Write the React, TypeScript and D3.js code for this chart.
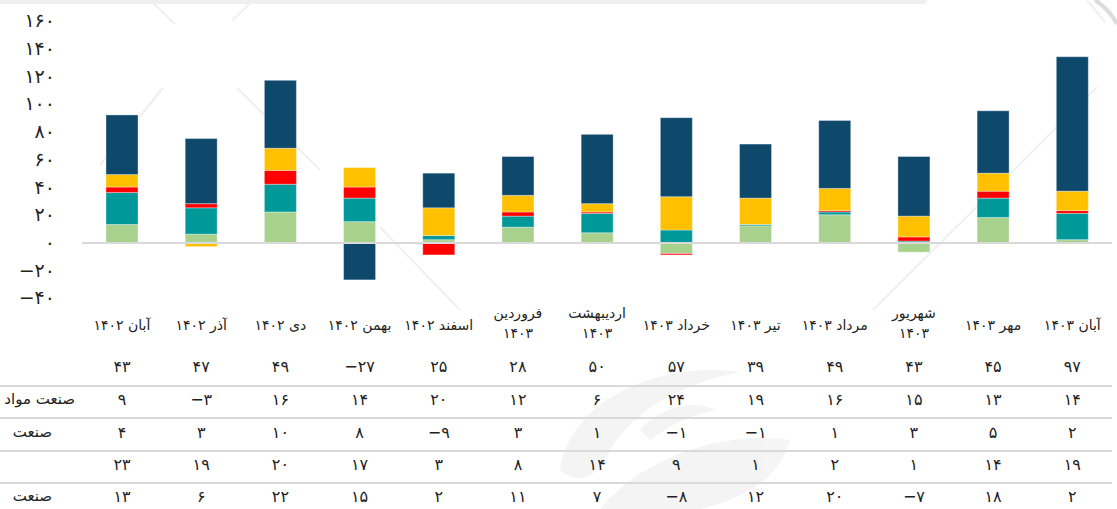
import { useRef, useEffect } from 'react';
import * as d3 from 'd3';

// months (left to right)
const categories = [
  'آبان ۱۴۰۲', 'آذر ۱۴۰۲', 'دی ۱۴۰۲', 'بهمن ۱۴۰۲', 'اسفند ۱۴۰۲',
  'فروردین ۱۴۰۳', 'اردیبهشت ۱۴۰۳', 'خرداد ۱۴۰۳', 'تیر ۱۴۰۳',
  'مرداد ۱۴۰۳', 'شهریور ۱۴۰۳', 'مهر ۱۴۰۳', 'آبان ۱۴۰۳',
];

// table rows, top to bottom
const blueValues = [43, 47, 49, -27, 25, 28, 50, 57, 39, 49, 43, 45, 97];
const yellowValues = [9, -3, 16, 14, 20, 12, 6, 24, 19, 16, 15, 13, 14];
const redValues = [4, 3, 10, 8, -9, 3, 1, -1, -1, 1, 3, 5, 2];
const tealValues = [23, 19, 20, 17, 3, 8, 14, 9, 1, 2, 1, 14, 19];
const greenValues = [13, 6, 22, 15, 2, 11, 7, -8, 12, 20, -7, 18, 2];

const rowLabels = ['', 'صنعت مواد', 'صنعت', '', 'صنعت'];
const yTicks = [-40, -20, 0, 20, 40, 60, 80, 100, 120, 140, 160];

const W = 1117;
const H = 509;

const fa = (n: number) => {
  const s = String(Math.abs(n)).replace(/\d/g, d => '۰۱۲۳۴۵۶۷۸۹'[+d]);
  return n < 0 ? '−' + s : s;
};

const App = () => {
  const svgRef = useRef<SVGSVGElement>(null);

  useEffect(() => {
    const svg = d3.select(svgRef.current);
    svg.selectAll('*').remove();

    const font = 'DejaVu Sans, Noto Sans, sans-serif';

    // faint watermark bits
    const wm = svg.append('g').attr('fill', 'none').attr('stroke', '#f0f0f0').attr('stroke-width', 2);
    wm.append('rect').attr('x', -10).attr('y', -4).attr('width', 937).attr('height', 8).attr('rx', 4)
      .attr('fill', '#efefef').attr('stroke', 'none');
    [[150, 0, 175, 24], [253, 0, 232, 21], [163, 88, 100, 165], [237, 88, 320, 170],
     [380, 227, 460, 310], [1097, 87, 873, 310], [1087, 0, 1105, 22]].forEach(([x1, y1, x2, y2]) => {
      wm.append('line').attr('x1', x1).attr('y1', y1).attr('x2', x2).attr('y2', y2);
    });
    wm.append('path').attr('d', 'M1095,0 Q1110,10 1117,24').attr('stroke', '#dcdcdc').attr('stroke-width', 4);
    const sw = svg.append('g').attr('fill', '#000').attr('opacity', 0.04);
    sw.append('path').attr('d', 'M560,470 C570,400 660,360 740,372 C700,380 640,400 610,450 C600,470 585,490 560,470 Z');
    sw.append('path').attr('d', 'M600,509 C640,460 720,430 790,440 C780,480 740,500 700,509 Z');
    sw.append('path').attr('d', 'M640,430 C660,405 700,400 715,410 C690,415 670,425 650,440 Z');

    const x = d3.scaleBand<string>()
      .domain(categories)
      .range([82.4, 1111.9])
      .paddingInner(0.596)
      .paddingOuter(0.298);

    const y = d3.scaleLinear()
      .domain([-40, 160])
      .range([297.9, 20.7]);

    // y axis labels
    const yAxis = svg.append('g')
      .attr('transform', 'translate(57,0)')
      .call(d3.axisLeft(y).tickValues(yTicks).tickSize(0).tickPadding(2).tickFormat(d => fa(+d)));
    yAxis.select('.domain').remove();
    yAxis.selectAll('text').attr('font-family', font).attr('font-size', 19).attr('fill', '#222');

    // stacked bars
    const rows = categories.map((c, i) => ({
      cat: c, green: greenValues[i], teal: tealValues[i], red: redValues[i],
      yellow: yellowValues[i], blue: blueValues[i],
    }));
    const keys = ['green', 'teal', 'red', 'yellow', 'blue'];
    const colors: Record<string, string> = {
      green: '#a9d18e', teal: '#009999', red: '#ff0000', yellow: '#ffc000', blue: '#0e486b',
    };
    const series = d3.stack<any>().keys(keys).offset(d3.stackOffsetDiverging)(rows);

    svg.append('g').selectAll('g')
      .data(series)
      .enter()
      .append('g')
      .attr('fill', s => colors[s.key])
      .selectAll('rect')
      .data(s => s)
      .enter()
      .append('rect')
      .attr('x', d => x(d.data.cat)!)
      .attr('width', x.bandwidth())
      .attr('y', d => y(Math.max(d[0], d[1])))
      .attr('height', d => Math.abs(y(d[0]) - y(d[1])))
      .attr('stroke', 'rgba(255,255,255,0.35)')
      .attr('stroke-width', 1);

    // zero line
    svg.append('line')
      .attr('x1', 82).attr('x2', 1112)
      .attr('y1', y(0) + 0.5).attr('y2', y(0) + 0.5)
      .attr('stroke', '#d9d9d9').attr('stroke-width', 2);

    // data table: header
    const head = svg.append('g').attr('font-family', font).attr('font-size', 14).attr('fill', '#222')
      .attr('text-anchor', 'middle');
    categories.forEach(c => {
      const cx = x(c)! + x.bandwidth() / 2;
      const [word, year] = c.split(' ');
      if (word.length > 5) {
        head.append('text').attr('x', cx).attr('y', 318).text(word);
        head.append('text').attr('x', cx).attr('y', 338).text(year);
      } else {
        head.append('text').attr('x', cx).attr('y', 330).text(c);
      }
    });

    const tableRows = [blueValues, yellowValues, redValues, tealValues, greenValues];
    const rowY = [366, 399, 432, 464, 496];
    const gridY = [386, 418, 451, 483];

    svg.append('g').selectAll('line')
      .data(gridY)
      .enter()
      .append('line')
      .attr('x1', 0).attr('x2', 1112)
      .attr('y1', d => d).attr('y2', d => d)
      .attr('stroke', '#d9d9d9').attr('stroke-width', 2);

    const body = svg.append('g').attr('font-family', font).attr('font-size', 16).attr('fill', '#222');
    tableRows.forEach((vals, r) => {
      body.selectAll(null)
        .data(vals)
        .enter()
        .append('text')
        .attr('x', (_, i) => x(categories[i])! + x.bandwidth() / 2)
        .attr('y', rowY[r])
        .attr('dy', '0.35em')
        .attr('text-anchor', 'middle')
        .text(d => fa(d));
      if (rowLabels[r]) {
        body.append('text')
          .attr('x', r === 1 ? 75 : 52)
          .attr('y', rowY[r])
          .attr('dy', '0.35em')
          .attr('text-anchor', 'end')
          .attr('font-size', 15)
          .text(rowLabels[r]);
      }
    });
  }, []);

  return (
    <div style={{ position: 'fixed', left: 0, top: 0, background: '#fff' }}>
      <svg ref={svgRef} width={W} height={H}></svg>
    </div>
  );
};

export default App;
